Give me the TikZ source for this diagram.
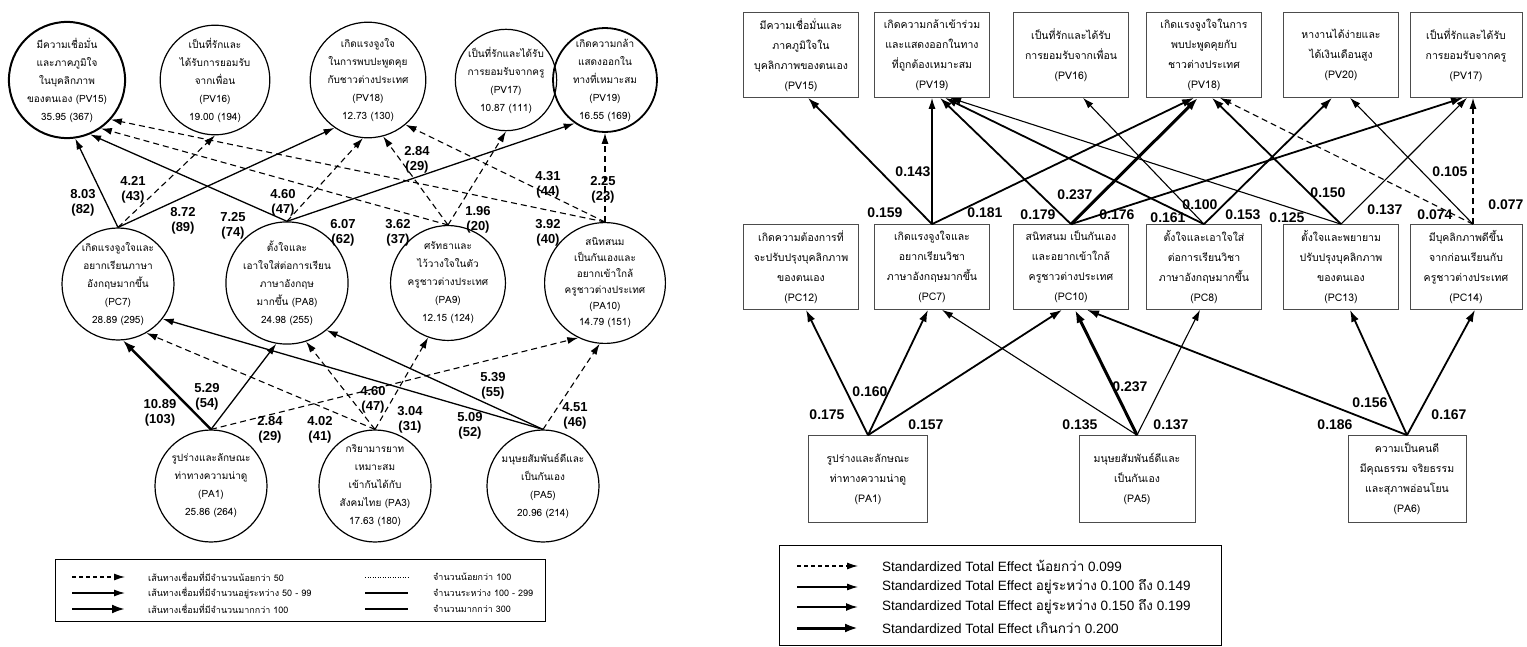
\documentclass[tikz,border=0pt]{standalone}
\usepackage{fontspec}
\newfontfamily\thfont[Script=Thai]{Loma}
\newfontfamily\lbfont{Liberation Sans}
\usetikzlibrary{arrows.meta}
\begin{document}
\begin{tikzpicture}[x=1pt,y=-1pt,
  lc/.style={circle,draw,line width=1.2pt,minimum size=108pt,inner sep=0pt,align=center,font=\thfont\fontsize{10}{18}\selectfont},
  rb/.style={rectangle,draw=black!70,line width=0.7pt,minimum width=115pt,minimum height=85pt,inner sep=0pt,align=center,font=\thfont\fontsize{10.5}{20}\selectfont},
  la/.style={-{Latex[length=11pt,width=7pt]},line width=1.3pt},
  lad/.style={-{Latex[length=11pt,width=7pt]},line width=1.1pt,dash pattern=on 6pt off 4pt},
  lat/.style={-{Latex[length=13pt,width=9pt]},line width=2.4pt},
  ra/.style={-{Latex[length=11pt,width=7pt]},line width=1.1pt},
  rm/.style={-{Latex[length=12pt,width=8pt]},line width=1.8pt},
  rt/.style={-{Latex[length=13pt,width=9pt]},line width=3pt},
  rd/.style={-{Latex[length=11pt,width=7pt]},line width=1.1pt,dash pattern=on 6pt off 4pt},
  ll/.style={font=\lbfont\bfseries\fontsize{13}{15}\selectfont,align=center,inner sep=0pt},
  rl/.style={font=\lbfont\bfseries\fontsize{14}{16}\selectfont,inner sep=0pt},
  lgt/.style={anchor=west,inner sep=0pt,font=\thfont\fontsize{9}{11}\selectfont},
  rgt/.style={anchor=west,inner sep=0pt,font=\lbfont\fontsize{13.5}{15}\selectfont},
  box/.style={draw,line width=0.9pt,inner sep=0pt}
]
\fill[white] (0,0) rectangle (1527,647);
\useasboundingbox (0,0) rectangle (1527,647);

% ---------------- LEFT DIAGRAM ----------------
\node[lc,line width=2pt] (pv15) at (67,80) {มีความเชื่อมั่น\\และภาคภูมิใจ\\ในบุคลิกภาพ\\ของตนเอง (PV15)\\35.95 (367)};
\node[lc] (pv16) at (215,80) {เป็นที่รักและ\\ได้รับการยอมรับ\\จากเพื่อน\\(PV16)\\19.00 (194)};
\node[lc] (pv18) at (368,80) {เกิดแรงจูงใจ\\ในการพบปะพูดคุย\\กับชาวต่างประเทศ\\(PV18)\\12.73 (130)};
\node[lc,minimum size=100pt] (pv17) at (506,80) {เป็นที่รักและได้รับ\\การยอมรับจากครู\\(PV17)\\10.87 (111)};
\node[lc,minimum size=100pt,line width=1.8pt] (pv19) at (605,80) {เกิดความกล้า\\แสดงออกใน\\ทางที่เหมาะสม\\(PV19)\\16.55 (169)};

\node[lc,minimum size=112pt] (pc7) at (118,284) {เกิดแรงจูงใจและ\\อยากเรียนภาษา\\อังกฤษมากขึ้น\\(PC7)\\28.89 (295)};
\node[lc] (pa8) at (287,283) {ตั้งใจและ\\เอาใจใส่ต่อการเรียน\\ภาษาอังกฤษ\\มากขึ้น (PA8)\\24.98 (255)};
\node[lc] (pa9) at (448,283) {ศรัทธาและ\\ไว้วางใจในตัว\\ครูชาวต่างประเทศ\\(PA9)\\12.15 (124)};
\node[lc,font=\thfont\fontsize{10}{16}\selectfont] (pa10) at (605,283) {สนิทสนม\\เป็นกันเองและ\\อยากเข้าใกล้\\ครูชาวต่างประเทศ\\(PA10)\\14.79 (151)};

\node[lc,minimum size=112pt] (pa1) at (211,486) {รูปร่างและลักษณะ\\ท่าทางความน่าดู\\(PA1)\\25.86 (264)};
\node[lc,minimum size=112pt] (pa3) at (375,486) {กริยามารยาท\\เหมาะสม\\เข้ากันได้กับ\\สังคมไทย (PA3)\\17.63 (180)};
\node[lc,minimum size=112pt] (pa5) at (543,486) {มนุษยสัมพันธ์ดีและ\\เป็นกันเอง\\(PA5)\\20.96 (214)};

% middle -> top
\draw[la] (pc7.north) -- (pv15.278);
\draw[lad] (pc7.north) -- (pv16.south);
\draw[la] (pc7.north) -- (pv18.235);
\draw[la] (pa8.north) -- (pv15.293);
\draw[lad] (pa8.north) -- (pv18.265);
\draw[la] (pa8.north) -- (pv19.235);
\draw[lad] (pa9.north) -- (pv15.305);
\draw[lad] (pa9.north) -- (pv18.285);
\draw[lad] (pa9.north) -- (pv17.south);
\draw[lad] (pa10.north) -- (pv15.318);
\draw[lad] (pa10.north) -- (pv18.310);
\draw[lad] (pa10.north) -- (pv19.south);

% bottom -> middle
\draw[lat] (pa1.north) -- (pc7.275);
\draw[la] (pa1.north) -- (pa8.260);
\draw[lad] (pa1.north) -- (pa10.244);
\draw[lad] (pa3.north) -- (pc7.300);
\draw[lad] (pa3.north) -- (pa8.288);
\draw[lad] (pa3.north) -- (pa9.250);
\draw[la] (pa5.north) -- (pc7.322);
\draw[la] (pa5.north) -- (pa8.310);
\draw[lad] (pa5.north) -- (pa10.265);

% labels left
\node[ll] (l1) at (83,203) {8.03\\(82)};
\node[ll] (l2) at (133,190) {4.21\\(43)};
\node[ll] (l3) at (183,221) {8.72\\(89)};
\node[ll] (l4) at (233,226) {7.25\\(74)};
\node[ll] (l5) at (283,203) {4.60\\(47)};
\node[ll] (l6) at (343,233) {6.07\\(62)};
\node[ll] (l7) at (398,233) {3.62\\(37)};
\node[ll] (l8) at (417,160) {2.84\\(29)};
\node[ll] (l9) at (478,220) {1.96\\(20)};
\node[ll] (l10) at (548,233) {3.92\\(40)};
\node[ll] (l11) at (548,185) {4.31\\(44)};
\node[ll] (l12) at (603,190) {2.25\\(23)};
\node[ll] (l13) at (160,413) {10.89\\(103)};
\node[ll] (l14) at (207,397) {5.29\\(54)};
\node[ll] (l15) at (270,430) {2.84\\(29)};
\node[ll] (l16) at (320,430) {4.02\\(41)};
\node[ll] (l17) at (373,400) {4.60\\(47)};
\node[ll] (l18) at (410,420) {3.04\\(31)};
\node[ll] (l19) at (493,386) {5.39\\(55)};
\node[ll] (l20) at (470,426) {5.09\\(52)};
\node[ll] (l21) at (575,416) {4.51\\(46)};

% left legend
\node[box,minimum width=490pt,minimum height=62pt] (lleg) at (300,590) {};
\coordinate (lsa1) at (72,577); \coordinate (lsb1) at (125,577);
\coordinate (lsa2) at (72,593); \coordinate (lsb2) at (125,593);
\coordinate (lsa3) at (72,609); \coordinate (lsb3) at (125,609);
\draw[lad,dash pattern=on 4pt off 3pt] (lsa1) -- (lsb1);
\draw[la] (lsa2) -- (lsb2);
\draw[lat] (lsa3) -- (lsb3);
\node[lgt] (lt1) at (148,577) {เส้นทางเชื่อมที่มีจำนวนน้อยกว่า 50};
\node[lgt] (lt2) at (148,593) {เส้นทางเชื่อมที่มีจำนวนอยู่ระหว่าง 50 - 99};
\node[lgt] (lt3) at (148,609) {เส้นทางเชื่อมที่มีจำนวนมากกว่า 100};
\coordinate (lca1) at (365,577); \coordinate (lcb1) at (408,577);
\coordinate (lca2) at (365,593); \coordinate (lcb2) at (408,593);
\coordinate (lca3) at (365,609); \coordinate (lcb3) at (408,609);
\draw[line width=1pt,dash pattern=on 1pt off 1.5pt] (lca1) -- (lcb1);
\draw[line width=1.2pt] (lca2) -- (lcb2);
\draw[line width=2.2pt] (lca3) -- (lcb3);
\node[lgt] (lt4) at (433,577) {จำนวนน้อยกว่า 100};
\node[lgt] (lt5) at (433,593) {จำนวนระหว่าง 100 - 299};
\node[lgt] (lt6) at (433,609) {จำนวนมากกว่า 300};

% ---------------- RIGHT DIAGRAM ----------------
\node[rb] (rpv15) at (801,55) {มีความเชื่อมั่นและ\\ภาคภูมิใจใน\\บุคลิกภาพของตนเอง\\(PV15)};
\node[rb] (rpv19) at (932,55) {เกิดความกล้าเข้าร่วม\\และแสดงออกในทาง\\ที่ถูกต้องเหมาะสม\\(PV19)};
\node[rb] (rpv16) at (1071,55) {เป็นที่รักและได้รับ\\การยอมรับจากเพื่อน\\(PV16)};
\node[rb] (rpv18) at (1204,55) {เกิดแรงจูงใจในการ\\พบปะพูดคุยกับ\\ชาวต่างประเทศ\\(PV18)};
\node[rb] (rpv20) at (1341,55) {หางานได้ง่ายและ\\ได้เงินเดือนสูง\\(PV20)};
\node[rb,minimum width=112pt] (rpv17) at (1466,55) {เป็นที่รักและได้รับ\\การยอมรับจากครู\\(PV17)};

\node[rb] (rpc12) at (801,267) {เกิดความต้องการที่\\จะปรับปรุงบุคลิกภาพ\\ของตนเอง\\(PC12)};
\node[rb] (rpc7) at (932,267) {เกิดแรงจูงใจและ\\อยากเรียนวิชา\\ภาษาอังกฤษมากขึ้น\\(PC7)};
\node[rb] (rpc10) at (1071,267) {สนิทสนม เป็นกันเอง\\และอยากเข้าใกล้\\ครูชาวต่างประเทศ\\(PC10)};
\node[rb] (rpc8) at (1204,267) {ตั้งใจและเอาใจใส่\\ต่อการเรียนวิชา\\ภาษาอังกฤษมากขึ้น\\(PC8)};
\node[rb] (rpc13) at (1341,267) {ตั้งใจและพยายาม\\ปรับปรุงบุคลิกภาพ\\ของตนเอง\\(PC13)};
\node[rb,minimum width=112pt] (rpc14) at (1466,267) {มีบุคลิกภาพดีขึ้น\\จากก่อนเรียนกับ\\ครูชาวต่างประเทศ\\(PC14)};

\node[rb,minimum width=119pt,minimum height=87pt] (rpa1) at (868,479) {รูปร่างและลักษณะ\\ท่าทางความน่าดู\\(PA1)};
\node[rb,minimum width=116pt,minimum height=87pt] (rpa5) at (1137,479) {มนุษยสัมพันธ์ดีและ\\เป็นกันเอง\\(PA5)};
\node[rb,minimum width=118pt,minimum height=87pt] (rpa6) at (1407,479) {ความเป็นคนดี\\มีคุณธรรม จริยธรรม\\และสุภาพอ่อนโยน\\(PA6)};

% middle -> top
\draw[rm] (rpc7.north) -- ([xshift=7pt]rpv15.south);
\draw[ra] (rpc7.north) -- (rpv19.south);
\draw[rm] (rpc7.north) -- ([xshift=-10pt]rpv18.south);
\draw[rm] (rpc10.north) -- ([xshift=8pt]rpv19.south);
\draw[rt] (rpc10.north) -- ([xshift=-6pt]rpv18.south);
\draw[rm] (rpc10.north) -- ([xshift=-3pt]rpv17.south);
\draw[rm] (rpc8.north) -- ([xshift=13pt]rpv19.south);
\draw[ra] (rpc8.north) -- ([xshift=12pt]rpv16.south);
\draw[rm] (rpc8.north) -- ([xshift=-9pt]rpv20.south);
\draw[ra] (rpc13.north) -- ([xshift=18pt]rpv19.south);
\draw[rm] (rpc13.north) -- ([xshift=8pt]rpv18.south);
\draw[ra] (rpc13.north) -- ([xshift=1pt]rpv17.south);
\draw[rd] ([xshift=7pt]rpc14.north) -- ([xshift=16pt]rpv18.south);
\draw[ra] ([xshift=7pt]rpc14.north) -- ([xshift=9pt]rpv20.south);
\draw[rd] ([xshift=7pt]rpc14.north) -- ([xshift=7pt]rpv17.south);

% bottom -> middle
\draw[rm] (rpa1.north) -- ([xshift=5pt]rpc12.south);
\draw[rm] (rpa1.north) -- ([xshift=-4pt]rpc7.south);
\draw[rm] (rpa1.north) -- ([xshift=-9pt]rpc10.south);
\draw[ra] (rpa5.north) -- ([xshift=10pt]rpc7.south);
\draw[rt] (rpa5.north) -- ([xshift=4pt]rpc10.south);
\draw[ra] (rpa5.north) -- ([xshift=-4pt]rpc8.south);
\draw[rm] (rpa6.north) -- ([xshift=16pt]rpc10.south);
\draw[rm] (rpa6.north) -- ([xshift=9pt]rpc13.south);
\draw[rm] (rpa6.north) -- ([xshift=9pt]rpc14.south);

% labels right
\node[rl] (r1) at (885,213) {0.159};
\node[rl] (r2) at (913,172) {0.143};
\node[rl] (r3) at (985,213) {0.181};
\node[rl] (r4) at (1038,215) {0.179};
\node[rl] (r5) at (1075,195) {0.237};
\node[rl] (r6) at (1117,215) {0.176};
\node[rl] (r7) at (1168,218) {0.161};
\node[rl] (r8) at (1200,205) {0.100};
\node[rl] (r9) at (1243,215) {0.153};
\node[rl] (r10) at (1287,218) {0.125};
\node[rl] (r11) at (1328,193) {0.150};
\node[rl] (r12) at (1385,210) {0.137};
\node[rl] (r13) at (1435,215) {0.074};
\node[rl] (r14) at (1450,172) {0.105};
\node[rl] (r15) at (1506,205) {0.077};
\node[rl] (r16) at (827,415) {0.175};
\node[rl] (r17) at (870,392) {0.160};
\node[rl] (r18) at (926,425) {0.157};
\node[rl] (r19) at (1080,425) {0.135};
\node[rl] (r20) at (1130,387) {0.237};
\node[rl] (r21) at (1171,425) {0.137};
\node[rl] (r22) at (1335,425) {0.186};
\node[rl] (r23) at (1370,403) {0.156};
\node[rl] (r24) at (1449,415) {0.167};

% right legend
\node[box,minimum width=442pt,minimum height=100pt] (rleg) at (1000,595) {};
\coordinate (rsa1) at (797,566); \coordinate (rsb1) at (858,566);
\coordinate (rsa2) at (797,587); \coordinate (rsb2) at (858,587);
\coordinate (rsa3) at (797,607); \coordinate (rsb3) at (858,607);
\coordinate (rsa4) at (797,628); \coordinate (rsb4) at (858,628);
\draw[rd,dash pattern=on 4pt off 3pt] (rsa1) -- (rsb1);
\draw[ra] (rsa2) -- (rsb2);
\draw[rm] (rsa3) -- (rsb3);
\draw[rt] (rsa4) -- (rsb4);
\node[rgt] (rt1) at (882,566) {Standardized Total Effect {\thfont น้อยกว่า} 0.099};
\node[rgt] (rt2) at (882,587) {Standardized Total Effect {\thfont อยู่ระหว่าง} 0.100 {\thfont ถึง} 0.149};
\node[rgt] (rt3) at (882,607) {Standardized Total Effect {\thfont อยู่ระหว่าง} 0.150 {\thfont ถึง} 0.199};
\node[rgt] (rt4) at (882,628) {Standardized Total Effect {\thfont เกินกว่า} 0.200};
\end{tikzpicture}
\end{document}
